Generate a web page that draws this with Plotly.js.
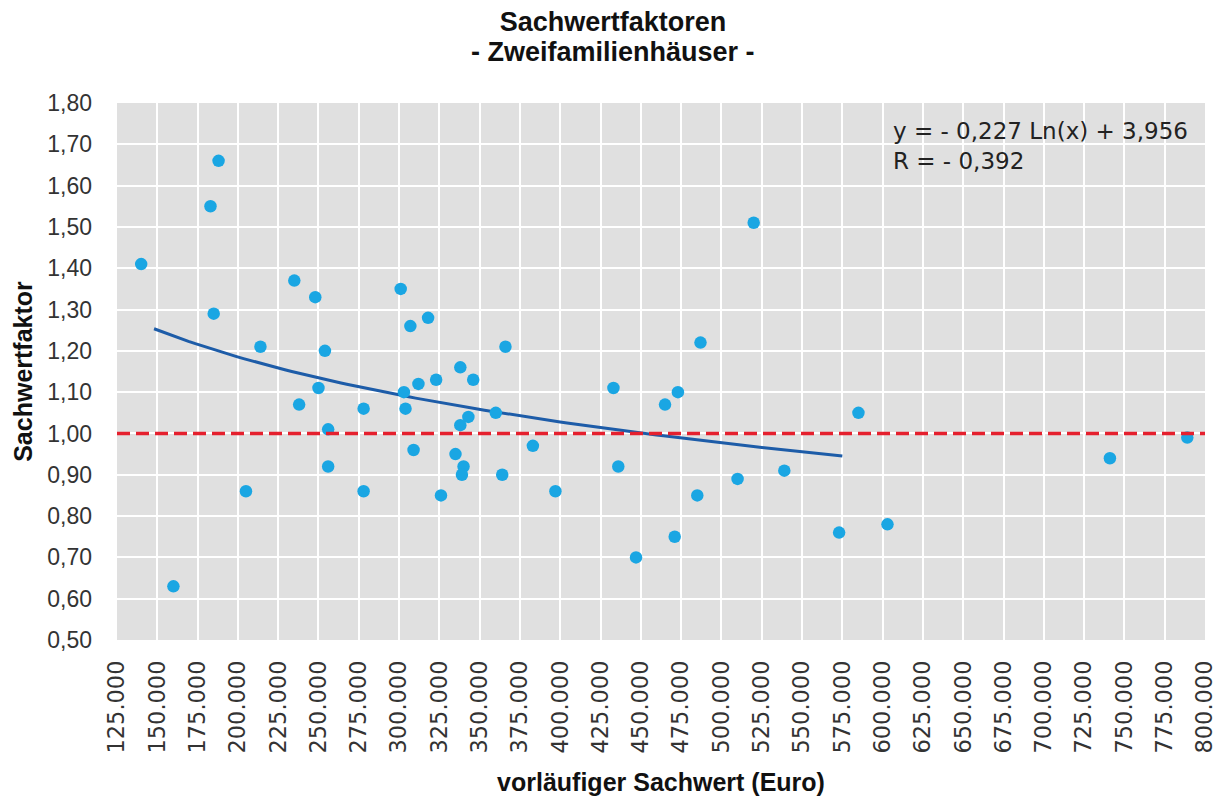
<!DOCTYPE html>
<html>
<head>
<meta charset="utf-8">
<script src="https://cdn.plot.ly/plotly-3.0.1.min.js"></script>
<style>
  html, body { margin: 0; padding: 0; background: #ffffff; }
  #chart { width: 1226px; height: 796px; }
</style>
</head>
<body>
<div id="chart"></div>
<script>
// ---- Data ----
const sachwert = [
  140000, 160000, 183000, 188000, 185000, 205000, 214000, 235000, 238000, 248000,
  250000, 254000, 256000, 256000, 278000, 278000, 301000, 303000, 304000, 307000,
  309000, 312000, 318000, 323000, 326000, 335000, 338000, 338000, 340000, 339000,
  343000, 346000, 360000, 364000, 366000, 383000, 397000, 433000, 436000, 447000,
  465000, 473000, 471000, 485000, 487000, 510000, 520000, 539000, 573000, 585000,
  603000, 741000, 789000
];
const faktor = [
  1.41, 0.63, 1.55, 1.66, 1.29, 0.86, 1.21, 1.37, 1.07, 1.33,
  1.11, 1.20, 1.01, 0.92, 1.06, 0.86, 1.35, 1.10, 1.06, 1.26,
  0.96, 1.12, 1.28, 1.13, 0.85, 0.95, 1.16, 1.02, 0.92, 0.90,
  1.04, 1.13, 1.05, 0.90, 1.21, 0.97, 0.86, 1.11, 0.92, 0.70,
  1.07, 1.10, 0.75, 0.85, 1.22, 0.89, 1.51, 0.91, 0.76, 1.05,
  0.78, 0.94, 0.99
];
// logarithmic trend line stated in the chart: y = a*ln(x) + b
const trendA = -0.227;
const trendB = 3.956;
const trendXStart = 148000;
const trendXEnd = 575000;
const referenceLevel = 1.0;

const titleMain = 'Sachwertfaktoren';
const titleSub = '- Zweifamilienhäuser -';
const xTitle = 'vorläufiger Sachwert (Euro)';
const yTitle = 'Sachwertfaktor';
const equationText = ['y = - 0,227 Ln(x) + 3,956', 'R = - 0,392'];

// ---- trend curve evaluated from the stated equation ----
const trendX = [], trendY = [];
const nSteps = 100;
for (let i = 0; i <= nSteps; i++) {
  const x = trendXStart + (trendXEnd - trendXStart) * i / nSteps;
  trendX.push(x);
  trendY.push(trendA * Math.log(x) + trendB);
}

const FONT = '"Liberation Sans", Arial, Helvetica, sans-serif';
const WIDE = '"DejaVu Sans", "Liberation Sans", Arial, sans-serif';

const traces = [
  {
    x: trendX, y: trendY, type: 'scatter', mode: 'lines',
    line: { color: '#1d5ca8', width: 3 },
    hoverinfo: 'skip', showlegend: false
  },
  {
    x: sachwert, y: faktor, type: 'scatter', mode: 'markers',
    marker: { color: '#1aa6e3', size: 12.5, line: { width: 0 } },
    showlegend: false
  }
];

const layout = {
  width: 1226, height: 796,
  paper_bgcolor: '#ffffff',
  plot_bgcolor: '#e0e0e0',
  separators: ',.',
  margin: { l: 117, r: 21, t: 103, b: 156, pad: 0 },
  font: { family: FONT, color: '#333333' },
  title: {
    text: '<b>' + titleMain + '</b>',
    x: 0.5, xref: 'container', xanchor: 'center',
    y: 0.9727, yref: 'container', yanchor: 'middle',
    font: { family: FONT, size: 27, color: '#111111' }
  },
  xaxis: {
    range: [125000, 800000],
    dtick: 25000, tick0: 125000,
    tickformat: ',.0f',
    tickangle: -90,
    tickfont: { family: WIDE, size: 22.5, color: '#333333' },
    ticklabelstandoff: 15,
    showgrid: true, gridcolor: '#ffffff', gridwidth: 2,
    zeroline: false, showline: false, ticks: '',
    title: { text: '<b>' + xTitle + '</b>', font: { family: FONT, size: 25, color: '#111111' }, standoff: 22 }
  },
  yaxis: {
    range: [0.5, 1.8],
    dtick: 0.1, tick0: 0.5,
    tickformat: '.2f',
    tickfont: { family: FONT, size: 23, color: '#333333' },
    ticklabelstandoff: 24,
    showgrid: true, gridcolor: '#ffffff', gridwidth: 2,
    zeroline: false, showline: false, ticks: '',
    title: { text: '<b>' + yTitle + '</b>', font: { family: FONT, size: 25, color: '#111111' }, standoff: 7 }
  },
  shapes: [
    {
      type: 'line', xref: 'paper', x0: 0, x1: 1,
      yref: 'y', y0: referenceLevel, y1: referenceLevel,
      line: { color: '#e5202e', width: 3.5, dash: '13px,6px' },
      layer: 'above'
    }
  ],
  annotations: [
    {
      text: '<b>' + titleSub + '</b>',
      xref: 'paper', yref: 'paper',
      x: (613 - 117) / 1088, y: 1.0955, xanchor: 'center', yanchor: 'middle',
      showarrow: false,
      font: { family: FONT, size: 27, color: '#111111' }
    },
    {
      text: equationText.join('<br>'),
      xref: 'paper', yref: 'paper',
      x: 0.7115, y: 0.9755, xanchor: 'left', yanchor: 'top',
      align: 'left', showarrow: false,
      font: { family: WIDE, size: 23, color: '#222222' }
    }
  ]
};

Plotly.newPlot('chart', traces, layout, { displayModeBar: false, staticPlot: true });
</script>
</body>
</html>
